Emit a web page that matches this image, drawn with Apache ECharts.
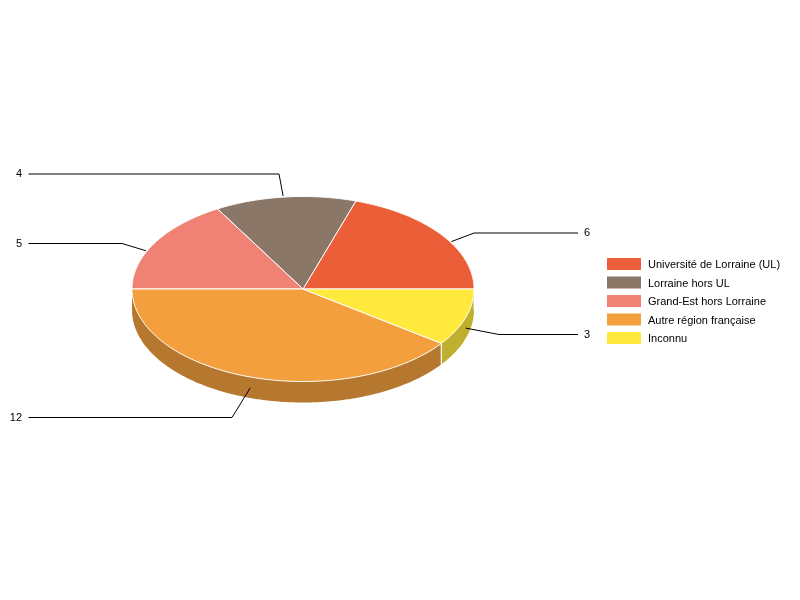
<!DOCTYPE html>
<html>
<head>
<meta charset="utf-8">
<style>html,body{margin:0;padding:0;background:#fff}#c{width:800px;height:600px}</style>
<script src="https://cdn.jsdelivr.net/npm/echarts@6/dist/echarts.min.js"></script>
</head>
<body>
<div id="c"></div>
<script>
var categories = ['Université de Lorraine (UL)', 'Lorraine hors UL', 'Grand-Est hors Lorraine', 'Autre région française', 'Inconnu'];
var values = [6, 4, 5, 12, 3];
var colors = ['#EB5E38', '#8A7767', '#EF8275', '#F49F3E', '#FFE93D'];
var sideColors = ['#B0462A', '#68594D', '#B36258', '#B6772E', '#BFAF2E'];

// Pie projection (ellipse) and label callouts
var CX = 303, CY = 289, RX = 171, RY = 92.5, DEPTH = 21;
var callouts = [
  {dx: 10, dy: 7, ex: 474, y: 233, lx: 578, tx: 584, align: 'left'},
  {dx: -2, dy: -1, ex: 279, y: 174, lx: 28.5, tx: 22, align: 'right'},
  {dx: -9, dy: 8, ex: 122, y: 243.5, lx: 28.5, tx: 22, align: 'right'},
  {dx: 0, dy: 11, ex: 232, y: 417.5, lx: 28.5, tx: 22, align: 'right'},
  {dx: 0, dy: 10.5, ex: 499, y: 334.5, lx: 578, tx: 584, align: 'left'}
];

var total = values.reduce(function (a, b) { return a + b; }, 0);
var starts = [];
values.reduce(function (acc, v, i) { starts[i] = acc; return acc + v; }, 0);

function pt(deg, dy) {
  var r = deg * Math.PI / 180;
  return [CX + RX * Math.cos(r), CY - RY * Math.sin(r) + (dy || 0)];
}
function arc(a0, a1, dy) {
  var pts = [], n = Math.max(2, Math.ceil(Math.abs(a1 - a0) * 2));
  for (var i = 0; i <= n; i++) pts.push(pt(a0 + (a1 - a0) * i / n, dy));
  return pts;
}

function renderSlice(i) {
  return function (params, api) {
    var a0 = starts[i] / total * 360;
    var a1 = (starts[i] + api.value(0)) / total * 360;
    var children = [];
    // visible wall: front half of the ellipse only (180..360 degrees)
    var s0 = Math.max(a0, 180), s1 = Math.min(a1, 360);
    if (s1 > s0) {
      var wall = arc(s0, s1, 0).concat(arc(s1, s0, DEPTH));
      children.push({type: 'polygon', shape: {points: wall},
        style: {fill: sideColors[i], stroke: null}});
      children.push({type: 'polyline', shape: {points: [pt(s1, 0), pt(s1, DEPTH)]},
        style: {stroke: '#fff', lineWidth: 1, fill: null}});
      children.push({type: 'polyline', shape: {points: [pt(s0, 0), pt(s0, DEPTH)]},
        style: {stroke: '#fff', lineWidth: s0 === 180 ? 0 : 1, fill: null}});
    }
    // top face
    var top = [[CX, CY]].concat(arc(a0, a1, 0));
    children.push({type: 'polygon', shape: {points: top},
      style: {fill: colors[i], stroke: '#fff', lineWidth: 1, lineJoin: 'round'}});
    // callout
    var c = callouts[i];
    var m = pt((a0 + a1) / 2, 0);
    children.push({type: 'polyline',
      shape: {points: [[m[0] + c.dx, m[1] + c.dy], [c.ex, c.y], [c.lx, c.y]]},
      style: {stroke: '#000', lineWidth: 1, fill: null}});
    children.push({type: 'text',
      style: {text: String(api.value(0)), x: c.tx, y: c.y, fill: '#000',
        font: '11px "Liberation Sans", Arial, sans-serif',
        align: c.align, verticalAlign: 'middle'}});
    return {type: 'group', children: children};
  };
}

var chart = echarts.init(document.getElementById('c'), null, {renderer: 'canvas'});
chart.setOption({
  animation: false,
  backgroundColor: '#fff',
  legend: {
    orient: 'vertical', left: 607, top: 258, padding: 0,
    icon: 'rect', itemWidth: 34, itemHeight: 12, itemGap: 6,
    selectedMode: false,
    data: categories,
    formatter: function (name) { return '{t|' + name + '}'; },
    textStyle: {
      fontFamily: '"Liberation Sans", Arial, sans-serif', fontSize: 11, color: '#000',
      padding: [0, 0, 0, 2],
      rich: {t: {fontFamily: '"Liberation Sans", Arial, sans-serif', fontSize: 11, color: '#000', padding: [2, 0, 0, 0]}}
    }
  },
  series: categories.map(function (name, i) {
    return {
      type: 'custom', name: name, coordinateSystem: 'none', silent: true,
      itemStyle: {color: colors[i]},
      renderItem: renderSlice(i),
      data: [[values[i]]]
    };
  })
});
</script>
</body>
</html>
